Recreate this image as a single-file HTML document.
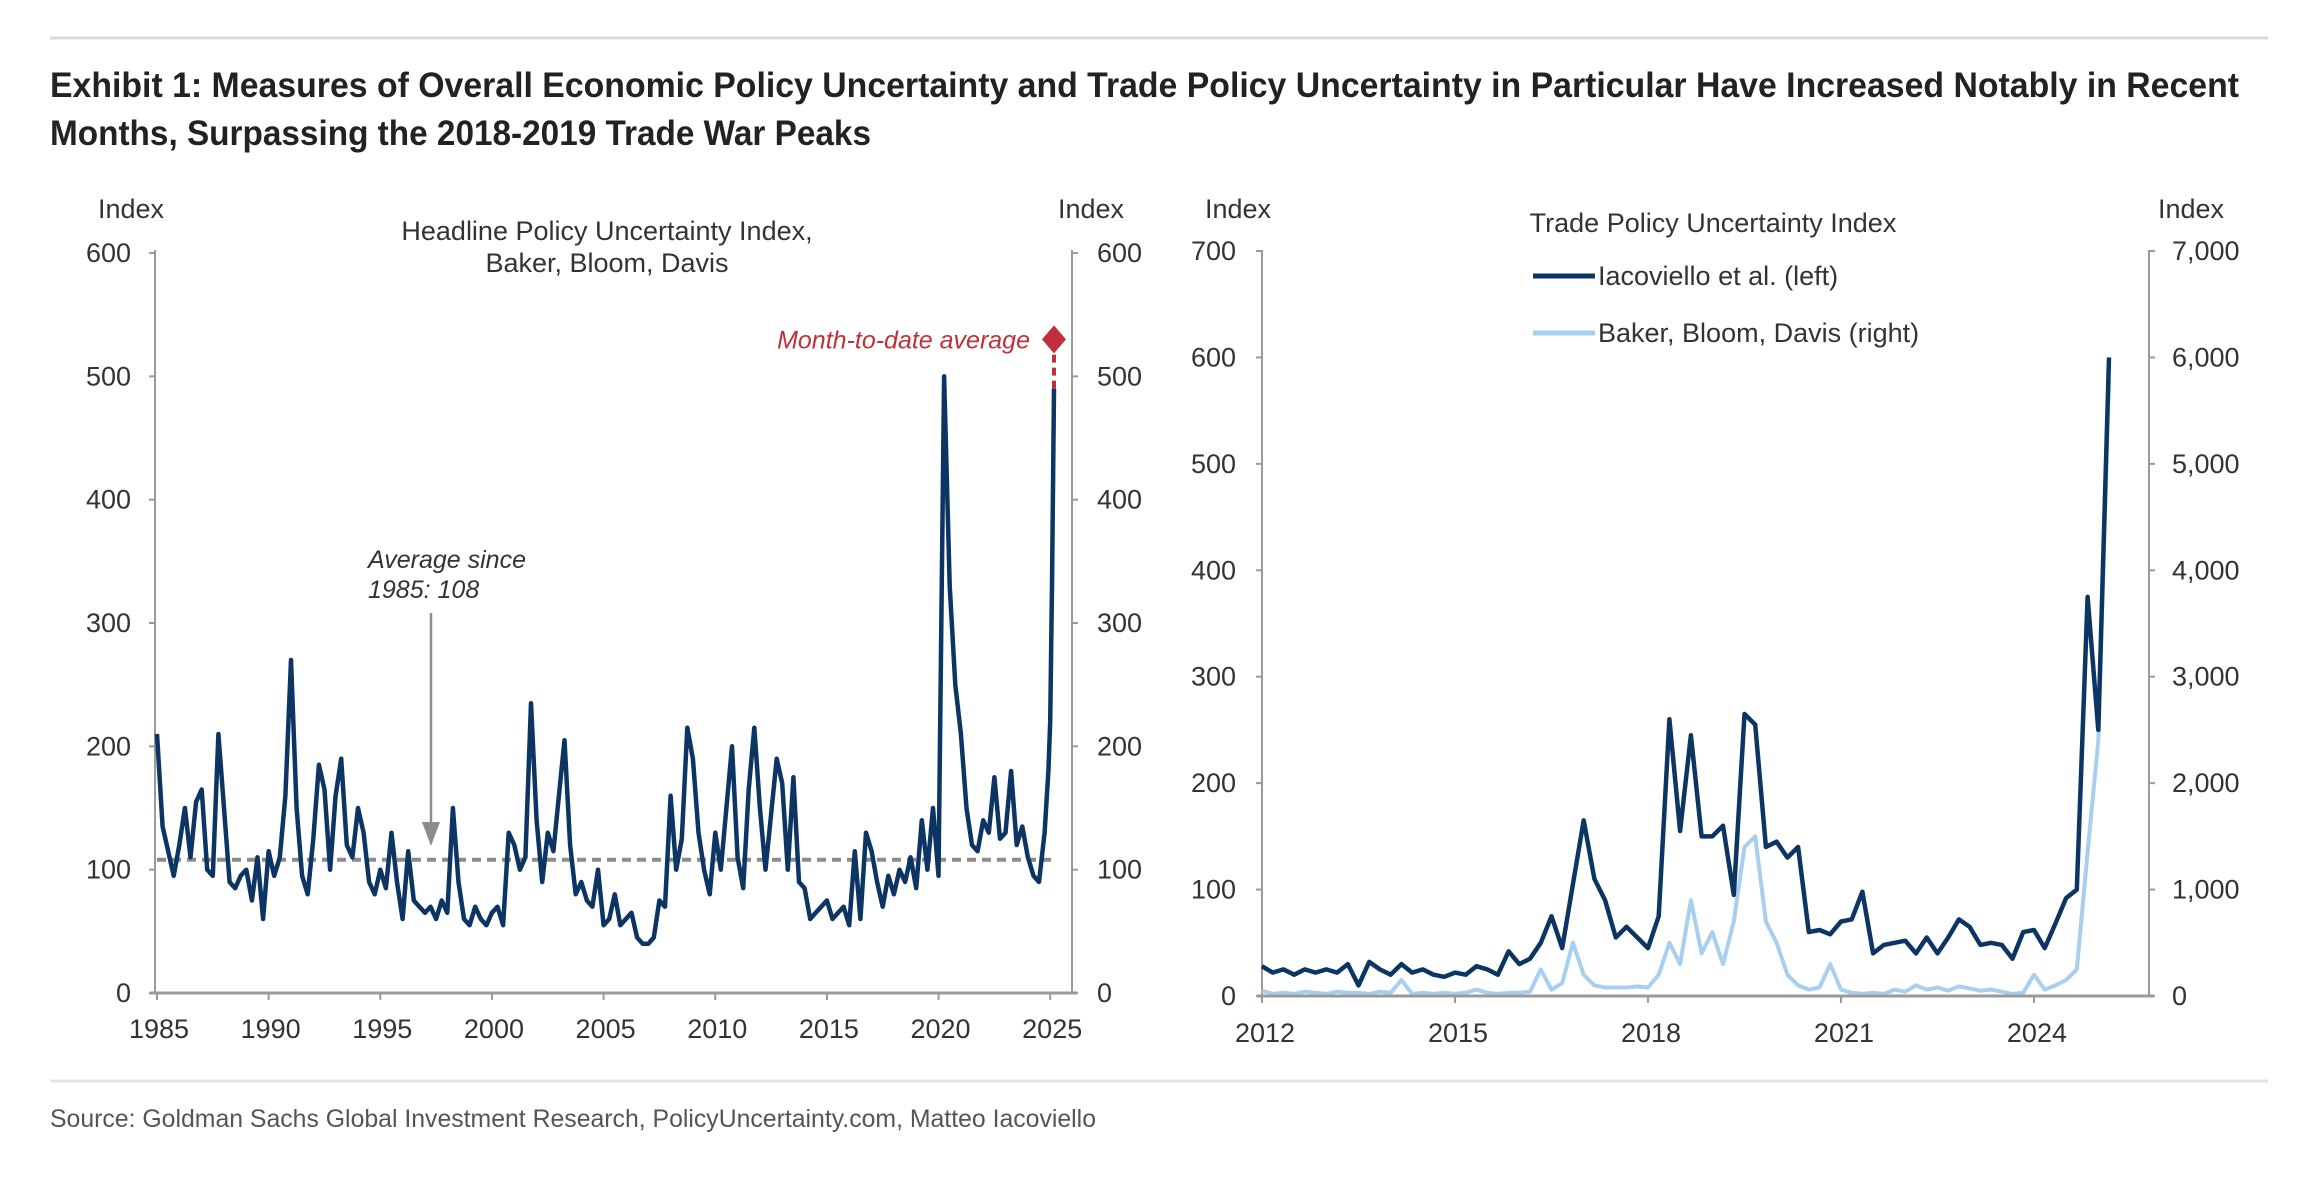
<!DOCTYPE html>
<html><head><meta charset="utf-8">
<style>
html,body{margin:0;padding:0;background:#fff;}
svg{display:block;font-family:"Liberation Sans Narrow","Liberation Sans",sans-serif;}
</style></head>
<body>
<svg id="root" width="2318" height="1180" viewBox="0 0 2318 1180" xmlns="http://www.w3.org/2000/svg">
<line x1="50" y1="38" x2="2268" y2="38" stroke="#d9d9d9" stroke-width="3"/>
<text x="50" y="97" font-size="35" font-weight="bold" fill="#222" textLength="2189" lengthAdjust="spacingAndGlyphs">Exhibit 1: Measures of Overall Economic Policy Uncertainty and Trade Policy Uncertainty in Particular Have Increased Notably in Recent</text>
<text x="50" y="145" font-size="35" font-weight="bold" fill="#222" textLength="821" lengthAdjust="spacingAndGlyphs">Months, Surpassing the 2018-2019 Trade War Peaks</text>
<line x1="50" y1="1081" x2="2268" y2="1081" stroke="#e3e3e3" stroke-width="3"/>
<text x="50" y="1127" font-size="25" fill="#555" textLength="1046" lengthAdjust="spacingAndGlyphs">Source: Goldman Sachs Global Investment Research, PolicyUncertainty.com, Matteo Iacoviello</text>
<g id="left"></g>
<g id="right"></g>
</svg>
<script>
// ---- Left chart data (quarterly samples) ----
const epuStartYear = 1985;
const epuValues = [
210,135,115,95, 120,150,110,155, 165,100,95,210, 150,90,85,95, 100,75,110,60,
115,95,110,160, 270,150,95,80, 125,185,165,100, 160,190,120,110, 150,130,90,80,
100,85,130,90, 60,115,75,70, 65,70,60,75, 65,150,90,60, 55,70,60,55,
65,70,55,130, 120,100,110,235, 140,90,130,115, 160,205,120,80, 90,75,70,100,
55,60,80,55, 60,65,45,40, 40,45,75,70, 160,100,125,215, 190,130,100,80,
130,100,150,200, 110,85,165,215, 150,100,145,190, 170,100,175,90, 85,60,65,70,
75,60,65,70, 55,115,60,130, 115,90,70,95, 80,100,90,110, 85,140,100,150,
95,500,330,250, 210,150,120,115, 140,130,175,125, 130,180,120,135, 110,95,90,130
];
const epuTailYears = [2024.92, 2025.0, 2025.08, 2025.17];
const epuTailValues = [180, 220, 330, 490];
const epuAverage = 108;
const epuMonthToDate = 530;
const epuYTicks = [0,100,200,300,400,500,600];
const epuXTicks = [1985,1990,1995,2000,2005,2010,2015,2020,2025];

// ---- Right chart data ----
const tpuStartYear = 2012;
const tpuStep = 1/6;
const tpuIacoviello = [
28,22,25,20,25,22, 25,22,30,10,32,25, 20,30,22,25,20,18, 22,20,28,25,20,42,
30,35,50,75,45,105, 165,110,90,55,65,55, 45,75,260,155,245,150, 150,160,95,265,255,140,
145,130,140,60,62,58, 70,72,98,40,48,50, 52,40,55,40,55,72, 65,48,50,48,35,60,
62,45,68,92,100,375, 250,600
];
const tpuBBD = [
50,20,30,20,40,30, 20,40,30,30,20,40, 30,150,20,30,20,30, 20,30,60,30,20,30,
30,40,250,60,120,500, 200,100,80,80,80,90, 80,200,500,300,900,400, 600,300,700,1400,1500,700,
500,200,100,60,80,300, 60,30,20,30,20,60, 40,100,60,80,50,90, 70,50,60,40,20,30,
200,60,100,150,250,1350, 2400,5800
];
const tpuLeftTicks = [0,100,200,300,400,500,600,700];
const tpuRightTicks = ["0","1,000","2,000","3,000","4,000","5,000","6,000","7,000"];
const tpuXTicks = [2012,2015,2018,2021,2024];

const NS = "http://www.w3.org/2000/svg";
function mk(parent, tag, attrs, text){
  const e = document.createElementNS(NS, tag);
  for (const k in attrs) e.setAttribute(k, attrs[k]);
  if (text !== undefined) e.textContent = text;
  parent.appendChild(e); return e;
}

// ===== LEFT =====
(function(){
  const g = document.getElementById('left');
  const X = y => 157 + (y - 1985) * 22.33;
  const Y = v => 993 - v * 1.2333;
  const axisC = "#9a9a9a", txt = "#333";
  let e;
  e = mk(g,'line',{x1:155,y1:250,x2:155,y2:993,stroke:axisC,'stroke-width':2});
   
  e = mk(g,'line',{x1:1072,y1:250,x2:1072,y2:993,stroke:axisC,'stroke-width':2});
   
  e = mk(g,'line',{x1:150,y1:993,x2:1077,y2:993,stroke:axisC,'stroke-width':3});
   
  epuYTicks.forEach(v=>{
    mk(g,'line',{x1:149,y1:Y(v),x2:155,y2:Y(v),stroke:axisC,'stroke-width':2});
    mk(g,'line',{x1:1072,y1:Y(v),x2:1078,y2:Y(v),stroke:axisC,'stroke-width':2});
    e = mk(g,'text',{x:131,y:Y(v)+9,'font-size':27,fill:txt,'text-anchor':'end'},String(v));
     
    e = mk(g,'text',{x:1097,y:Y(v)+9,'font-size':27,fill:txt},String(v));
     
  });
  epuXTicks.forEach(y=>{
    mk(g,'line',{x1:X(y),y1:993,x2:X(y),y2:1000,stroke:axisC,'stroke-width':2});
    e = mk(g,'text',{x:X(y)+2,y:1038,'font-size':27,fill:txt,'text-anchor':'middle'},String(y));
     
  });
  e = mk(g,'text',{x:98,y:218,'font-size':27,fill:txt},'Index');
   
  e = mk(g,'text',{x:1058,y:218,'font-size':27,fill:txt},'Index');
   
  e = mk(g,'text',{x:607,y:240,'font-size':27,fill:txt,'text-anchor':'middle'},'Headline Policy Uncertainty Index,');
   
  e = mk(g,'text',{x:607,y:272,'font-size':27,fill:txt,'text-anchor':'middle'},'Baker, Bloom, Davis');
   
  e = mk(g,'line',{x1:X(1985),y1:Y(epuAverage),x2:X(2025.2),y2:Y(epuAverage),stroke:'#8c8c8c','stroke-width':4,'stroke-dasharray':'9 6'});
   
  const pts = epuValues.map((v,i)=>[X(epuStartYear + i*0.25), Y(v)]);
  epuTailYears.forEach((y,i)=>pts.push([X(y), Y(epuTailValues[i])]));
  e = mk(g,'polyline',{points:pts.map(p=>p[0].toFixed(1)+','+p[1].toFixed(1)).join(' '),fill:'none',stroke:'#0d3564','stroke-width':4.5,'stroke-linejoin':'round'});
   
  const lx = X(epuTailYears[epuTailYears.length-1]);
  e = mk(g,'line',{x1:lx,y1:Y(epuTailValues[epuTailValues.length-1]),x2:lx,y2:Y(epuMonthToDate),stroke:'#c0303a','stroke-width':4,'stroke-dasharray':'8 5'});
   
  const my = Y(epuMonthToDate);
  e = mk(g,'polygon',{points:`${lx},${my-14} ${lx+12},${my} ${lx},${my+14} ${lx-12},${my}`,fill:'#c0303a'});
   
  e = mk(g,'text',{x:1030,y:my+9,'font-size':25,'font-style':'italic',fill:'#c0303a','text-anchor':'end'},'Month-to-date average');
   
  e = mk(g,'text',{x:368,y:568,'font-size':25,'font-style':'italic',fill:txt},'Average since');
   
  e = mk(g,'text',{x:368,y:598,'font-size':25,'font-style':'italic',fill:txt},'1985: '+epuAverage);
   
  e = mk(g,'line',{x1:431,y1:613,x2:431,y2:830,stroke:'#8c8c8c','stroke-width':2.5});
   
  mk(g,'polygon',{points:'422,822 440,822 431,846',fill:'#8c8c8c'});
})();

// ===== RIGHT =====
(function(){
  const g = document.getElementById('right');
  const X = y => 1262 + (y - 2012) * 64.33;
  const Y = v => 996 - v * 1.0643;
  const YR = v => Y(v/10);
  const axisC = "#9a9a9a", txt = "#333";
  let e;
  e = mk(g,'line',{x1:1262,y1:250,x2:1262,y2:996,stroke:axisC,'stroke-width':2});
   
  e = mk(g,'line',{x1:2149,y1:250,x2:2149,y2:996,stroke:axisC,'stroke-width':2});
   
  tpuLeftTicks.forEach((v,i)=>{
    mk(g,'line',{x1:1256,y1:Y(v),x2:1262,y2:Y(v),stroke:axisC,'stroke-width':2});
    mk(g,'line',{x1:2149,y1:Y(v),x2:2155,y2:Y(v),stroke:axisC,'stroke-width':2});
    e = mk(g,'text',{x:1236,y:Y(v)+9,'font-size':27,fill:txt,'text-anchor':'end'},String(v));
     
    e = mk(g,'text',{x:2172,y:Y(v)+9,'font-size':27,fill:txt},tpuRightTicks[i]);
     
  });
  tpuXTicks.forEach(y=>{
    mk(g,'line',{x1:X(y),y1:996,x2:X(y),y2:1003,stroke:axisC,'stroke-width':2});
    e = mk(g,'text',{x:X(y)+3,y:1042,'font-size':27,fill:txt,'text-anchor':'middle'},String(y));
     
  });
  e = mk(g,'text',{x:1205,y:218,'font-size':27,fill:txt},'Index');
   
  e = mk(g,'text',{x:2158,y:218,'font-size':27,fill:txt},'Index');
   
  e = mk(g,'text',{x:1713,y:232,'font-size':27,fill:txt,'text-anchor':'middle'},'Trade Policy Uncertainty Index');
   
  e = mk(g,'line',{x1:1533,y1:276,x2:1595,y2:276,stroke:'#0d3564','stroke-width':5});
   
  e = mk(g,'text',{x:1598,y:285,'font-size':27,fill:txt},'Iacoviello et al. (left)');
   
  e = mk(g,'line',{x1:1533,y1:333,x2:1595,y2:333,stroke:'#a9cff0','stroke-width':5});
   
  e = mk(g,'text',{x:1598,y:342,'font-size':27,fill:txt},'Baker, Bloom, Davis (right)');
   
  const p2 = tpuBBD.map((v,i)=>X(tpuStartYear+i*tpuStep).toFixed(1)+','+YR(v).toFixed(1)).join(' ');
  e = mk(g,'polyline',{points:p2,fill:'none',stroke:'#a9cff0','stroke-width':4,'stroke-linejoin':'round'});
   
  const p1 = tpuIacoviello.map((v,i)=>X(tpuStartYear+i*tpuStep).toFixed(1)+','+Y(v).toFixed(1)).join(' ');
  e = mk(g,'polyline',{points:p1,fill:'none',stroke:'#0d3564','stroke-width':4.5,'stroke-linejoin':'round'});
   
  e = mk(g,'line',{x1:1257,y1:996,x2:2154,y2:996,stroke:axisC,'stroke-width':3});
   
})();
</script>
</body></html>
